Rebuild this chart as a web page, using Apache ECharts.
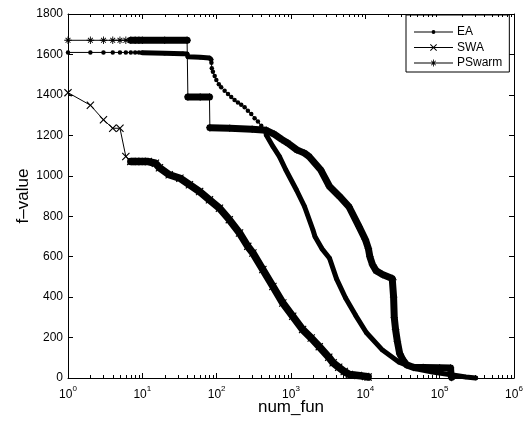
<!DOCTYPE html>
<html>
<head>
<meta charset="utf-8">
<script src="https://cdn.jsdelivr.net/npm/echarts@6/dist/echarts.min.js"></script>
<style>
  html, body { margin: 0; padding: 0; background: #fff; }
  #chart { width: 532px; height: 422px; }
</style>
</head>
<body>
<div id="chart"></div>
<script>
// EA
const eaX = [1, 2, 3, 4, 5, 6, 7, 8, 9, 10, 20, 35, 40, 41, 60, 80, 84, 85, 86, 89,
  94, 99, 107, 115, 128, 142, 157, 174, 193, 214, 238, 263, 292, 324, 359, 398, 441, 465, 571, 700,
  850, 1180, 1520, 1970, 2100, 2600, 3300, 4100, 5400, 7400, 10300, 17000, 28500, 48000, 80000, 135000, 225000, 305000];
const eaY = [1610, 1610, 1610, 1610, 1610, 1610, 1610, 1610, 1609, 1608, 1606, 1604, 1602, 1588, 1586, 1582, 1575, 1559, 1532, 1515,
  1494, 1474, 1453, 1438, 1421, 1405, 1389, 1375, 1362, 1351, 1339, 1322, 1306, 1285, 1268, 1247, 1219, 1202, 1145, 1095,
  1030, 931, 848, 733, 700, 640, 592, 490, 397, 310, 225, 138, 78, 45, 30, 17, 5, 0];

// SWA
const swaX = [1, 2, 3, 4, 5, 6, 7, 8, 9, 10, 12, 15, 17, 23, 32, 43, 59, 80, 109, 148,
  203, 262, 307, 418, 571, 776, 1054, 1432, 1870, 2400, 3220, 3690, 4380, 5200, 6100, 8000, 10100, 10900];
const swaY = [1411, 1349, 1277, 1235, 1235, 1095, 1071, 1071, 1071, 1071, 1070, 1062, 1040, 1005, 988, 956, 922, 881, 840, 783,
  717, 651, 618, 536, 453, 371, 305, 240, 198, 155, 103, 75, 53, 32, 17, 12, 8, 5];

// PSwarm
const psX = [1, 2, 3, 4, 5, 6, 7, 8, 9, 10, 20, 40, 41, 60, 80, 81, 150, 300, 465, 600,
  750, 912, 1200, 1520, 1750, 2500, 3300, 4500, 6000, 8200, 10000, 11000, 11500, 12500, 14000, 17000, 23000, 23500, 24000, 24500,
  25500, 27000, 29000, 32000, 36000, 45000, 60000, 100000, 140000, 142000, 145000];
const psY = [1670, 1670, 1670, 1670, 1670, 1670, 1670, 1670, 1670, 1670, 1670, 1670, 1390, 1390, 1390, 1238, 1235, 1230, 1225, 1205,
  1180, 1161, 1128, 1112, 1095, 1030, 947, 898, 848, 750, 685, 640, 600, 560, 530, 512, 492, 486, 400, 300,
  240, 180, 120, 90, 65, 52, 52, 51, 50, 20, 3];

const seriesNames = ['EA', 'SWA', 'PSwarm'];
const xMin = 1, xMax = 1e6;
const yMin = 0, yMax = 1800, yStep = 200;
// minor ticks of the log axis: 2..9 in every decade
const minorMantissa = [2, 3, 4, 5, 6, 7, 8, 9];
const decades = [1, 10, 100, 1000, 10000, 100000];

// ranges where the markers are so dense they merge into a thick band
const eaBands = [[10, 84], [465, 3.1e5]];
const swaBands = [[7, 11000]];
const psBands = [[7, 40], [41, 80], [81, 1.5e5]];

const FONT = '"Liberation Sans", Arial, sans-serif';

// marker shapes in a 10x10 box, all polygons clockwise
const xShape = [[[0, 1], [1, 0], [5, 4], [9, 0], [10, 1], [6, 5], [10, 9], [9, 10], [5, 6], [1, 10], [0, 9], [4, 5]]];
const starShape = [
  [[0, 4.4], [10, 4.4], [10, 5.6], [0, 5.6]],
  [[4.4, 0], [5.6, 0], [5.6, 10], [4.4, 10]],
  [[1.4, 2.2], [2.2, 1.4], [8.6, 7.8], [7.8, 8.6]],
  [[7.8, 1.4], [8.6, 2.2], [2.2, 8.6], [1.4, 7.8]]
];

const polyPath = (polys, s, dx, dy) => polys.map(p =>
  'M' + p.map(q => (dx + q[0] * s).toFixed(2) + ',' + (dy + q[1] * s).toFixed(2)).join(' L') + ' Z'
).join(' ');

// legend icons: 39x8 box, line through the middle with the marker
const IW = 39, IH = 8;
const frame = ' M0,0 L0.01,0 Z M' + IW + ',' + IH + ' L' + (IW - 0.01) + ',' + IH + ' Z';
const lineRect = (a, b) => 'M' + a + ',3.5 L' + b + ',3.5 L' + b + ',4.5 L' + a + ',4.5 Z ';
const eaIcon = 'path://' + lineRect(0, 17.5) + lineRect(21.5, IW) +
  'M21.5,4 A2,2 0 1 1 17.5,4 A2,2 0 1 1 21.5,4 Z' + frame;
const swaIcon = 'path://' + lineRect(0, IW) + polyPath(xShape, 0.7, 16, 0.5) + frame;
const psIcon = 'path://' + lineRect(0, IW) + polyPath(starShape, 0.7, 16, 0.5) + frame;

const pairs = (xs, ys) => xs.map((x, i) => [x, ys[i]]);

const headSeries = (name, xs, ys, symbol, size) => ({
  name: name,
  type: 'line',
  data: pairs(xs, ys),
  symbol: symbol,
  symbolSize: size,
  showSymbol: true,
  clip: false,
  lineStyle: { color: '#000', width: 1 },
  itemStyle: { color: '#000', borderWidth: 0 },
  emphasis: { disabled: true },
  z: 3
});

const bandSeries = (name, xs, ys, bands, width) => bands.map(([lo, hi]) => ({
  name: name,
  type: 'line',
  data: pairs(xs, ys).filter(p => p[0] >= lo && p[0] <= hi),
  symbol: 'none',
  clip: false,
  lineStyle: { color: '#000', width: width, cap: 'round', join: 'round' },
  emphasis: { disabled: true },
  silent: true,
  z: 2
}));

// minor ticks on bottom and top edges, placed by the log axis
const minorTickSeries = {
  name: 'minor',
  type: 'custom',
  coordinateSystem: 'cartesian2d',
  data: decades.flatMap(d => minorMantissa.map(m => [m * d, yMin])),
  silent: true,
  clip: false,
  z: 5,
  renderItem: (params, api) => {
    const x = Math.round(api.coord([api.value(0), yMin])[0]) + 0.5;
    const cs = params.coordSys;
    const yb = Math.round(cs.y + cs.height);
    const yt = Math.round(cs.y);
    return {
      type: 'group',
      children: [
        { type: 'line', shape: { x1: x, y1: yb, x2: x, y2: yb - 3 }, style: { stroke: '#000', lineWidth: 1 } },
        { type: 'line', shape: { x1: x, y1: yt, x2: x, y2: yt + 3 }, style: { stroke: '#000', lineWidth: 1 } }
      ]
    };
  }
};

const chart = echarts.init(document.getElementById('chart'), null, { renderer: 'canvas' });

const axisCommon = {
  axisLine: { show: true, onZero: false, lineStyle: { color: '#000', width: 1 } },
  splitLine: { show: false }
};

const option = {
  animation: false,
  backgroundColor: '#fff',
  grid: { left: 68, right: 18, top: 14, bottom: 44, containLabel: false, outerBoundsMode: 'none' },
  legend: {
    data: [
      { name: 'EA', icon: eaIcon },
      { name: 'SWA', icon: swaIcon },
      { name: 'PSwarm', icon: psIcon }
    ],
    orient: 'vertical',
    left: 406,
    top: 15,
    itemWidth: IW,
    itemHeight: IH,
    itemGap: 3.5,
    padding: [11, 7, 3, 8],
    backgroundColor: '#fff',
    borderColor: '#000',
    borderWidth: 1,
    borderRadius: 0,
    selectedMode: false,
    itemStyle: { borderWidth: 0 },
    textStyle: { fontFamily: FONT, fontSize: 12, color: '#000', padding: [0, 0, 0, -1] }
  },
  xAxis: [
    Object.assign({
      type: 'log',
      logBase: 10,
      min: xMin,
      max: xMax,
      position: 'bottom',
      name: 'num_fun',
      nameLocation: 'middle',
      nameGap: 21,
      nameMoveOverlap: false,
      nameTextStyle: { fontFamily: FONT, fontSize: 17, color: '#000' },
      axisTick: { inside: true, length: 5, lineStyle: { color: '#000' } },
      axisLabel: {
        margin: 7,
        showMaxLabel: true,
        showMinLabel: true,
        formatter: v => '{b|10}{s|' + Math.round(Math.log10(v)) + '}',
        rich: {
          b: { fontFamily: FONT, fontSize: 12, color: '#000', padding: [4, 0, 0, 0], verticalAlign: 'bottom' },
          s: { fontFamily: FONT, fontSize: 8, color: '#000', verticalAlign: 'top' }
        }
      }
    }, axisCommon),
    Object.assign({
      type: 'log',
      logBase: 10,
      min: xMin,
      max: xMax,
      position: 'top',
      axisTick: { inside: true, length: 5, lineStyle: { color: '#000' } },
      axisLabel: { show: false }
    }, axisCommon)
  ],
  yAxis: [
    Object.assign({
      type: 'value',
      min: yMin,
      max: yMax,
      interval: yStep,
      position: 'left',
      name: 'f\u2013value',
      nameLocation: 'middle',
      nameGap: 36,
      nameMoveOverlap: false,
      nameRotate: 90,
      nameTextStyle: { fontFamily: FONT, fontSize: 17, color: '#000' },
      axisTick: { inside: true, length: 5, lineStyle: { color: '#000' } },
      axisLabel: { margin: 5, fontFamily: FONT, fontSize: 12, color: '#000', formatter: v => String(v) }
    }, axisCommon),
    Object.assign({
      type: 'value',
      min: yMin,
      max: yMax,
      interval: yStep,
      position: 'right',
      axisTick: { inside: true, length: 5, lineStyle: { color: '#000' } },
      axisLabel: { show: false }
    }, axisCommon)
  ],
  series: [
    headSeries('EA', eaX, eaY, 'circle', 4.5),
    headSeries('SWA', swaX, swaY, 'path://' + polyPath(xShape, 1, 0, 0), 8),
    headSeries('PSwarm', psX, psY, 'path://' + polyPath(starShape, 1, 0, 0), 7.5)
  ].concat(
    bandSeries('EA', eaX, eaY, eaBands, 5),
    bandSeries('SWA', swaX, swaY, swaBands, 7.5),
    bandSeries('PSwarm', psX, psY, psBands, 7),
    [minorTickSeries]
  )
};

chart.setOption(option);
</script>
</body>
</html>
